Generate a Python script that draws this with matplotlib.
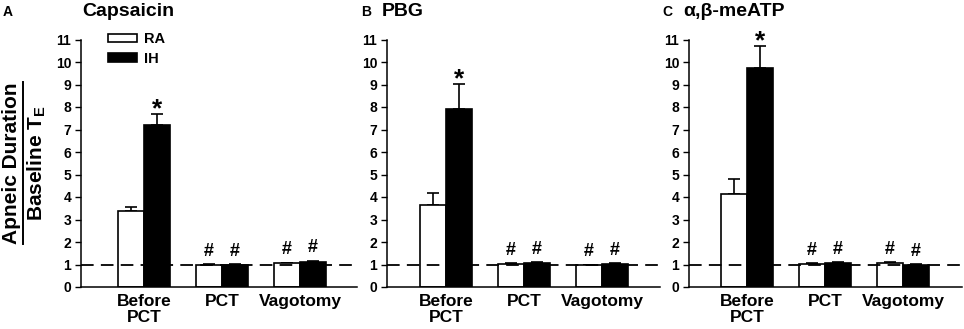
import matplotlib
matplotlib.use('Agg')
import matplotlib.pyplot as plt
from matplotlib.patches import Patch
from matplotlib.lines import Line2D
import numpy as np

plt.rcParams['font.family'] = 'Liberation Sans'
plt.rcParams['font.weight'] = 'bold'
plt.rcParams['mathtext.fontset'] = 'custom'
plt.rcParams['mathtext.rm'] = 'Liberation Sans:bold'
plt.rcParams['mathtext.it'] = 'Liberation Sans:bold'
plt.rcParams['mathtext.bf'] = 'Liberation Sans:bold'

# data
groups = ['Before\nPCT', 'PCT', 'Vagotomy']
panel_letters = ['A', 'B', 'C']
panel_titles = ['Capsaicin', 'PBG', '\u03b1,\u03b2-meATP']

ra_mean = [[3.38, 1.00, 1.05], [3.63, 1.03, 0.98], [4.15, 1.03, 1.06]]
ra_err = [[0.18, 0.02, 0.03], [0.55, 0.03, 0.02], [0.64, 0.03, 0.04]]
ih_mean = [[7.19, 1.00, 1.11], [7.93, 1.06, 1.03], [9.74, 1.06, 1.00]]
ih_err = [[0.49, 0.02, 0.06], [1.08, 0.03, 0.03], [0.96, 0.03, 0.02]]

W, H = 964, 329
# axes box in pixels: left, right ; first group centre in pixels
ax_px = [(81, 357, 144), (387, 660, 446), (689, 962, 747)]
ax_top, ax_bot = 39.5, 287
spacing = 78.0
bar_w = 26 / spacing

fig = plt.figure(figsize=(W / 100, H / 100), dpi=100)

for i in range(3):
    left, right, c0 = ax_px[i]
    ax = fig.add_axes([left / W, (H - ax_bot) / H, (right - left) / W, (ax_bot - ax_top) / H])
    x = np.arange(len(groups))
    ax.bar(x - bar_w / 2, ra_mean[i], bar_w, color='white', edgecolor='black', linewidth=1.2, zorder=2)
    ax.bar(x + bar_w / 2, ih_mean[i], bar_w, color='black', edgecolor='black', linewidth=1.2, zorder=2)
    ax.errorbar(x - bar_w / 2, ra_mean[i], yerr=[np.zeros(3), ra_err[i]], fmt='none',
                ecolor='black', elinewidth=1.2, capsize=4.5, capthick=1.2, zorder=1)
    ax.errorbar(x + bar_w / 2, ih_mean[i], yerr=[np.zeros(3), ih_err[i]], fmt='none',
                ecolor='black', elinewidth=1.2, capsize=4.5, capthick=1.2, zorder=1)
    ax.axhline(1, color='black', linestyle=(0, (7, 4)), linewidth=1.3, zorder=3)

    # significance marks
    ax.text(x[0] + bar_w / 2, ih_mean[i][0] + ih_err[i][0] - 0.3, '*', ha='center', va='bottom',
            fontsize=19, fontweight='bold')
    for j in (1, 2):
        ax.text(x[j] - bar_w / 2, ra_mean[i][j] + ra_err[i][j] + 0.2, '#', ha='center', va='bottom',
                fontsize=13, fontweight='bold')
        ax.text(x[j] + bar_w / 2, ih_mean[i][j] + ih_err[i][j] + 0.2, '#', ha='center', va='bottom',
                fontsize=13, fontweight='bold')

    ax.set_xlim((left - c0) / spacing, (right - c0) / spacing)
    ax.set_ylim(0, 11)
    ax.set_yticks(range(0, 12))
    ax.set_xticks(x)
    ax.set_xticklabels(groups, fontsize=12.5, fontweight='bold', linespacing=1.05)
    ax.tick_params(axis='x', length=0, pad=5)
    ax.tick_params(axis='y', direction='out', length=4, width=1, labelsize=10, pad=3)
    for lab in ax.get_yticklabels():
        lab.set_fontweight('bold')
    for s in ('top', 'right'):
        ax.spines[s].set_visible(False)
    for s in ('left', 'bottom'):
        ax.spines[s].set_linewidth(1.1)

    if i == 0:
        handles = [Patch(facecolor='white', edgecolor='black', linewidth=1.2, label='RA'),
                   Patch(facecolor='black', edgecolor='black', linewidth=1.2, label='IH')]
        ax.legend(handles=handles, loc='upper left', bbox_to_anchor=((108 - left) / (right - left), 1.03),
                  frameon=False, fontsize=10.5, handlelength=2.0, handleheight=0.55,
                  handletextpad=0.5, labelspacing=0.4, borderpad=0, borderaxespad=0)

# panel letters and titles
letter_x = [3, 361, 662]
title_x = [82, 382, 683]
for i in range(3):
    fig.text(letter_x[i] / W, 1 - 12 / H, panel_letters[i], ha='left', va='center', fontsize=10, fontweight='bold')
    fig.text(title_x[i] / W, 1 - 12 / H, panel_titles[i], ha='left', va='center', fontsize=14, fontweight='bold')

# y label drawn as a fraction
yc = 1 - 163 / H
num = fig.text(12 / W, yc, 'Apneic Duration', rotation=90, ha='center', va='center', fontsize=15, fontweight='bold')
den = fig.text(37 / W, yc, r'Baseline T$_\mathrm{E}$', rotation=90, ha='center', va='center',
               fontsize=15, fontweight='bold')
fig.canvas.draw()
bb = num.get_window_extent().transformed(fig.transFigure.inverted())
lx = bb.x1 + 1.0 / W
fig.add_artist(Line2D([lx, lx], [bb.y0, bb.y1], transform=fig.transFigure, color='black', linewidth=1.4))

fig.savefig('out.png', dpi=100)
